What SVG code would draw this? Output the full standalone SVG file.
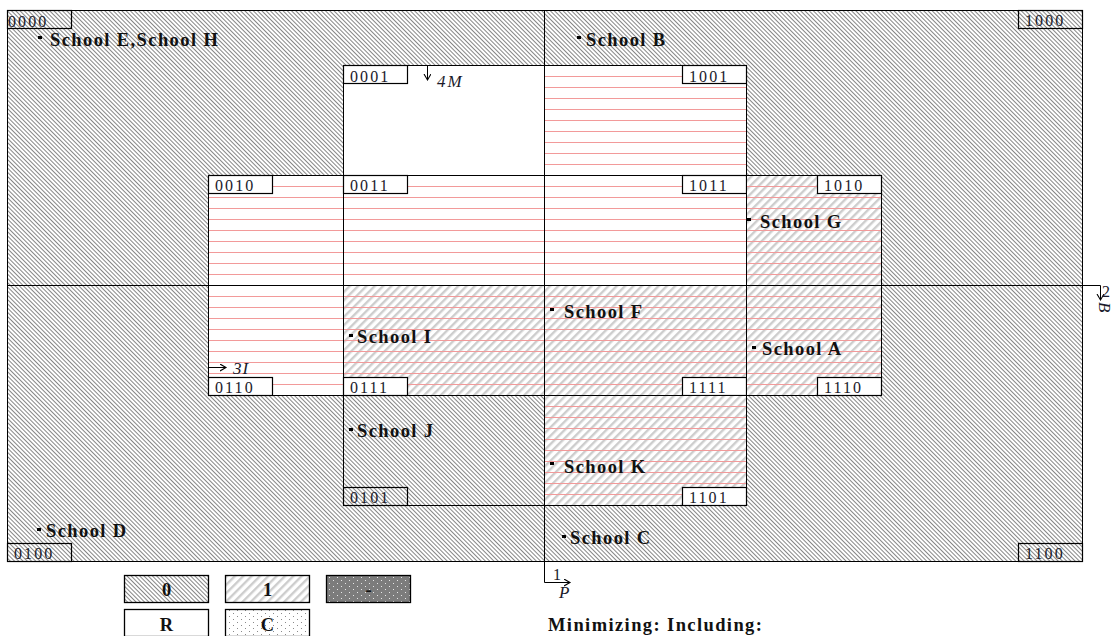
<svg xmlns="http://www.w3.org/2000/svg" width="1115" height="636" viewBox="0 0 1115 636">
<style>
.lbl{font-family:"Liberation Serif",serif;font-size:16px;letter-spacing:2.1px;fill:#1a1a2a}
.sch{font-family:"Liberation Serif",serif;font-weight:bold;font-size:18.5px;letter-spacing:1.4px;fill:#111}
.it{font-family:"Liberation Serif",serif;font-style:italic;font-size:17px;fill:#1a1a2a}
.rm{font-family:"Liberation Serif",serif;font-size:16px;fill:#1a1a2a}
.leg{font-family:"Liberation Serif",serif;font-weight:bold;font-size:18.5px;fill:#111;text-anchor:middle}
.box{fill:none;stroke:#000;stroke-width:1.2}
.wbox{fill:#fff;stroke:#000;stroke-width:1.2}
.cell{fill:none;stroke:#000;stroke-width:1}
.ax{fill:none;stroke:#000;stroke-width:1}
.dot{fill:#000}
</style>
<defs>
<pattern id="h0" patternUnits="userSpaceOnUse" width="3" height="3" patternTransform="rotate(-45)"><rect width="3" height="3" fill="#fff"/><rect x="0" y="0" width="0.95" height="3" fill="#808080"/></pattern>
<pattern id="h1" patternUnits="userSpaceOnUse" width="5.9" height="5.9" patternTransform="rotate(45)"><rect x="0" y="0" width="2.4" height="5.9" fill="#cdcdcd"/></pattern>
<pattern id="rl" patternUnits="userSpaceOnUse" width="10" height="11"><rect x="0" y="10" width="10" height="1.5" fill="#f29a9a"/></pattern>
<pattern id="dk" patternUnits="userSpaceOnUse" width="8" height="6"><rect width="8" height="6" fill="#7c7c7c"/><rect x="1" y="1" width="1" height="1" fill="#e8e8e8"/><rect x="5" y="4" width="1" height="1" fill="#e8e8e8"/></pattern>
<pattern id="lt" patternUnits="userSpaceOnUse" width="8" height="6"><rect width="8" height="6" fill="#fff"/><rect x="1" y="1" width="1" height="1" fill="#8a8a8a"/><rect x="5" y="4" width="1" height="1" fill="#8a8a8a"/></pattern>
<marker id="ar" markerUnits="userSpaceOnUse" markerWidth="10" markerHeight="10" refX="6" refY="3.5" orient="auto"><path d="M0,0 L6,3.5 L0,7" fill="none" stroke="#000" stroke-width="1.1"/></marker>
</defs>
<rect width="1115" height="636" fill="#fff"/>

<g id="frame">
<rect x="7.5" y="10.5" width="1075" height="551" fill="url(#h0)" stroke="#000" stroke-width="1"/>
</g>

<g id="c0000"><rect class="box" x="7.5" y="10.5" width="64" height="18"/><text class="lbl" x="8" y="26.5">0000</text></g>
<g id="c1000"><rect class="box" x="1018.5" y="10.5" width="64" height="18"/><text class="lbl" x="1025" y="26">1000</text></g>
<g id="c0100"><rect class="box" x="7.5" y="543.5" width="64" height="18"/><text class="lbl" x="14" y="559">0100</text></g>
<g id="c1100"><rect class="box" x="1018.5" y="543.5" width="64" height="18"/><text class="lbl" x="1025" y="559">1100</text></g>

<g id="c0001"><rect x="343.5" y="65.5" width="201" height="110" fill="#fff"/><rect class="cell" x="343.5" y="65.5" width="201" height="110"/><rect class="box" x="343.5" y="65.5" width="64" height="18"/><text class="lbl" x="350" y="81.5">0001</text></g>
<g id="c1001"><rect x="544.5" y="65.5" width="202" height="110" fill="#fff"/><rect x="544.5" y="65.5" width="202" height="110" fill="url(#rl)"/><rect class="cell" x="544.5" y="65.5" width="202" height="110"/><rect class="wbox" x="682.5" y="65.5" width="64" height="18"/><text class="lbl" x="689" y="81.5">1001</text></g>
<g id="c0010"><rect x="208.5" y="175.5" width="135" height="110" fill="#fff"/><rect x="208.5" y="175.5" width="135" height="110" fill="url(#rl)"/><rect class="cell" x="208.5" y="175.5" width="135" height="110"/><rect class="wbox" x="208.5" y="175.5" width="64" height="18"/><text class="lbl" x="215" y="191">0010</text></g>
<g id="c0011"><rect x="343.5" y="175.5" width="201" height="110" fill="#fff"/><rect x="343.5" y="175.5" width="201" height="110" fill="url(#rl)"/><rect class="cell" x="343.5" y="175.5" width="201" height="110"/><rect class="wbox" x="343.5" y="175.5" width="64" height="18"/><text class="lbl" x="350" y="191">0011</text></g>
<g id="c1011"><rect x="544.5" y="175.5" width="202" height="110" fill="#fff"/><rect x="544.5" y="175.5" width="202" height="110" fill="url(#rl)"/><rect class="cell" x="544.5" y="175.5" width="202" height="110"/><rect class="wbox" x="682.5" y="175.5" width="64" height="18"/><text class="lbl" x="689" y="191">1011</text></g>
<g id="c1010"><rect x="746.5" y="175.5" width="135" height="110" fill="#fff"/><rect x="746.5" y="175.5" width="135" height="110" fill="url(#h1)"/><rect x="746.5" y="175.5" width="135" height="110" fill="url(#rl)"/><rect class="cell" x="746.5" y="175.5" width="135" height="110"/><rect class="wbox" x="817.5" y="175.5" width="64" height="18"/><text class="lbl" x="824" y="191">1010</text></g>
<g id="c0110"><rect x="208.5" y="285.5" width="135" height="110" fill="#fff"/><rect x="208.5" y="285.5" width="135" height="110" fill="url(#rl)"/><rect class="cell" x="208.5" y="285.5" width="135" height="110"/><rect class="wbox" x="208.5" y="377.5" width="64" height="18"/><text class="lbl" x="215" y="393">0110</text></g>
<g id="c0111"><rect x="343.5" y="285.5" width="201" height="110" fill="#fff"/><rect x="343.5" y="285.5" width="201" height="110" fill="url(#h1)"/><rect x="343.5" y="285.5" width="201" height="110" fill="url(#rl)"/><rect class="cell" x="343.5" y="285.5" width="201" height="110"/><rect class="wbox" x="343.5" y="377.5" width="64" height="18"/><text class="lbl" x="350" y="393">0111</text></g>
<g id="c1111"><rect x="544.5" y="285.5" width="202" height="110" fill="#fff"/><rect x="544.5" y="285.5" width="202" height="110" fill="url(#h1)"/><rect x="544.5" y="285.5" width="202" height="110" fill="url(#rl)"/><rect class="cell" x="544.5" y="285.5" width="202" height="110"/><rect class="wbox" x="682.5" y="377.5" width="64" height="18"/><text class="lbl" x="689" y="393">1111</text></g>
<g id="c1110"><rect x="746.5" y="285.5" width="135" height="110" fill="#fff"/><rect x="746.5" y="285.5" width="135" height="110" fill="url(#h1)"/><rect x="746.5" y="285.5" width="135" height="110" fill="url(#rl)"/><rect class="cell" x="746.5" y="285.5" width="135" height="110"/><rect class="wbox" x="817.5" y="377.5" width="64" height="18"/><text class="lbl" x="824" y="393">1110</text></g>
<g id="c0101"><rect class="cell" x="343.5" y="395.5" width="201" height="110"/><rect class="box" x="343.5" y="487.5" width="64" height="18"/><text class="lbl" x="350" y="503">0101</text></g>
<g id="c1101"><rect x="544.5" y="395.5" width="202" height="110" fill="#fff"/><rect x="544.5" y="395.5" width="202" height="110" fill="url(#h1)"/><rect x="544.5" y="395.5" width="202" height="110" fill="url(#rl)"/><rect class="cell" x="544.5" y="395.5" width="202" height="110"/><rect class="wbox" x="682.5" y="487.5" width="64" height="18"/><text class="lbl" x="689" y="503">1101</text></g>

<g id="connectors">
<path class="ax" d="M544.5,10.5 V582.5 H570" marker-end="url(#ar)"/>
<path class="ax" d="M7.5,285.5 H1100.5 V300" marker-end="url(#ar)"/>
<path class="ax" d="M427.5,66 V80" marker-end="url(#ar)"/>
<path class="ax" d="M208.5,367.5 H226" marker-end="url(#ar)"/>
</g>

<g id="axis-labels">
<text class="rm" x="553" y="580">1</text>
<text class="it" x="559" y="598">P</text>
<text class="rm" x="1102" y="297">2</text>
<text class="it" transform="translate(1099,302) rotate(90)">B</text>
<text class="it" x="437" y="86.5" letter-spacing="2">4M</text>
<text class="it" x="233" y="374" letter-spacing="1">3I</text>
</g>

<g id="schools">
<g id="sEH"><rect class="dot" x="38" y="36" width="4" height="3"/><text class="sch" x="50" y="46">School E,School H</text></g>
<g id="sB"><rect class="dot" x="577" y="36" width="4" height="3"/><text class="sch" x="586" y="46">School B</text></g>
<g id="sG"><rect class="dot" x="747" y="218" width="4" height="3"/><text class="sch" x="760" y="228">School G</text></g>
<g id="sF"><rect class="dot" x="550" y="308" width="4" height="3"/><text class="sch" x="564" y="318">School F</text></g>
<g id="sI"><rect class="dot" x="349" y="334" width="4" height="3"/><text class="sch" x="357" y="343">School I</text></g>
<g id="sA"><rect class="dot" x="752" y="346" width="4" height="3"/><text class="sch" x="762" y="355">School A</text></g>
<g id="sJ"><rect class="dot" x="349" y="428" width="4" height="3"/><text class="sch" x="357" y="437">School J</text></g>
<g id="sK"><rect class="dot" x="550" y="462" width="4" height="3"/><text class="sch" x="564" y="473">School K</text></g>
<g id="sD"><rect class="dot" x="37" y="528" width="4" height="3"/><text class="sch" x="46" y="537">School D</text></g>
<g id="sC"><rect class="dot" x="562" y="535" width="4" height="3"/><text class="sch" x="570" y="544">School C</text></g>
</g>

<g id="legend">
<g id="l0"><rect x="124.5" y="575.5" width="84" height="27" fill="url(#h0)" stroke="#000" stroke-width="1.3"/><text class="leg" x="166.5" y="596">0</text></g>
<g id="l1"><rect x="225.5" y="575.5" width="84" height="27" fill="#fff" stroke="none"/><rect x="225.5" y="575.5" width="84" height="27" fill="url(#h1)" stroke="#000" stroke-width="1.3"/><text class="leg" x="267.5" y="596">1</text></g>
<g id="ldash"><rect x="326.5" y="575.5" width="84" height="27" fill="url(#dk)" stroke="#000" stroke-width="1.3"/><text class="leg" x="368.5" y="596">-</text></g>
<g id="lR"><rect x="124.5" y="609.5" width="84" height="27" fill="#fff" stroke="#000" stroke-width="1.3"/><text class="leg" x="166.5" y="631">R</text></g>
<g id="lC"><rect x="225.5" y="609.5" width="84" height="27" fill="url(#lt)" stroke="#000" stroke-width="1.3"/><text class="leg" x="267.5" y="631">C</text></g>
</g>

<text id="minimizing" class="sch" x="548" y="631" letter-spacing="1.5">Minimizing: Including:</text>
</svg>
